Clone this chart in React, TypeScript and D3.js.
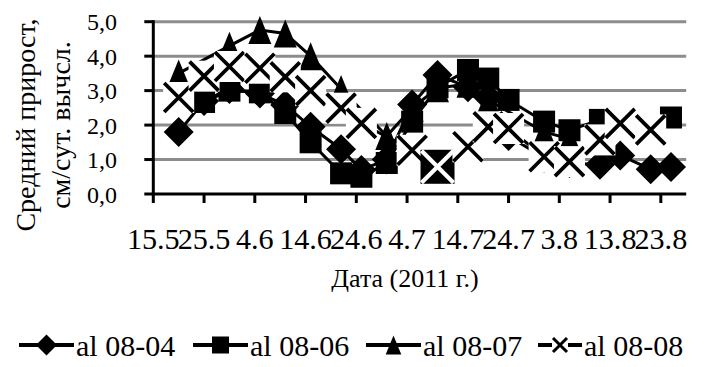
import React from "react";
import * as d3 from "d3";

// Day offsets counted from 15 May 2011
const tickDays = [0, 10, 20, 30, 40, 50, 60, 70, 80, 90, 100];
const tickLabels = ["15.5", "25.5", "4.6", "14.6", "24.6", "4.7", "14.7", "24.7", "3.8", "13.8", "23.8"];
const yTicks = [0, 1, 2, 3, 4, 5];

const days0804 = [5, 10, 15, 21, 26, 31, 37, 41, 46, 51, 56, 62, 66, 70, 77, 82, 88, 92, 98, 102];
const vals0804 = [1.8, 2.7, 3.05, 2.92, 2.58, 1.95, 1.3, 0.7, 1.0, 2.6, 3.45, 3.1, 2.8, 1.68, 1.05, 0.9, 0.85, 1.12, 0.72, 0.78];

const days0806 = [10, 15, 21, 26, 31, 37, 41, 46, 51, 56, 62, 66, 70, 77, 82, 88, 102];
const vals0806 = [2.67, 3.0, 2.95, 2.35, 1.5, 0.6, 0.5, 0.9, 2.1, 3.1, 3.6, 3.35, 2.73, 2.1, 1.85, 2.15, 2.22];

const days0807 = [5, 15, 21, 26, 31, 37, 46, 51, 56, 62, 66, 77, 82];
const vals0807 = [3.5, 4.3, 4.76, 4.66, 4.0, 3.05, 1.68, 2.5, 3.07, 3.2, 2.72, 1.8, 1.6];

const days0808 = [5, 10, 15, 21, 26, 31, 37, 41, 51, 56, 62, 66, 70, 77, 82, 88, 92, 98];
const vals0808 = [2.8, 3.42, 3.7, 3.65, 3.4, 3.0, 2.49, 2.05, 1.27, 0.79, 1.37, 1.95, 1.9, 1.08, 0.94, 1.57, 2.05, 1.86];
// point of al 08-08 drawn with a dark fill
const highlighted0808 = 56;

const seriesNames = ["al 08-04", "al 08-06", "al 08-07", "al 08-08"];

type Shape = "diamond" | "square" | "triangle" | "cross";

const FONT = "'Liberation Serif', 'Times New Roman', serif";

function Marker({ shape, x, y, s, dark }: { shape: Shape; x: number; y: number; s: number; dark?: boolean }) {
  if (shape === "diamond") {
    const h = s / 2;
    return <path d={`M${x},${y - h}L${x + h},${y}L${x},${y + h}L${x - h},${y}Z`} fill="#000" />;
  }
  if (shape === "square") {
    const h = s / 2;
    return <rect x={x - h} y={y - h} width={s} height={s} fill="#000" />;
  }
  if (shape === "triangle") {
    const w = s * 0.82;
    const h = s;
    return <path d={`M${x},${y - h / 2}L${x + w / 2},${y + h / 2}L${x - w / 2},${y + h / 2}Z`} fill="#000" />;
  }
  const h = s / 2;
  const d = `M${x - h},${y - h}L${x + h},${y + h}M${x + h},${y - h}L${x - h},${y + h}`;
  return (
    <g>
      <rect x={x - h - 1} y={y - h - 1} width={s + 2} height={s + 2} fill={dark ? "#000" : "#fff"} />
      <path d={d} stroke={dark ? "#fff" : "#000"} strokeWidth={Math.max(3, s * 0.13)} />
    </g>
  );
}

export default function App() {
  const W = 706;
  const H = 367;
  const x = d3.scaleLinear().domain([0, 105]).range([153.3, 686.2]);
  const y = d3.scaleLinear().domain([0, 5]).range([194, 21.7]);

  const series: { days: number[]; vals: number[]; shape: Shape; size: number }[] = [
    { days: days0804, vals: vals0804, shape: "diamond", size: 30 },
    { days: days0806, vals: vals0806, shape: "square", size: 22 },
    { days: days0807, vals: vals0807, shape: "triangle", size: 28 },
    { days: days0808, vals: vals0808, shape: "cross", size: 29 },
  ];

  const line = d3
    .line<[number, number]>()
    .x((d) => x(d[0]))
    .y((d) => y(d[1]));

  const legendX = [19, 193, 366, 538];
  const legendLine = [55, 55, 55, 44];
  const legendMarker = [21, 17, 19, 14];
  const legendY = 345;

  return (
    <svg width={W} height={H} style={{ position: "absolute", left: 0, top: 0, background: "#fff" }} fontFamily={FONT}>
      {/* gridlines */}
      {yTicks.slice(1).map((t) => (
        <line key={t} x1={x(0)} x2={x(105)} y1={y(t)} y2={y(t)} stroke="#8c8c8c" strokeWidth={3} />
      ))}

      {/* series lines and markers */}
      {series.map((s, i) => {
        const pts = s.days.map((d, j) => [d, s.vals[j]] as [number, number]);
        return (
          <g key={i}>
            <path d={line(pts) || ""} fill="none" stroke="#000" strokeWidth={3} />
            {pts.map((p, j) => {
              const dark = s.shape === "cross" && p[0] === highlighted0808;
              return (
                <Marker key={j} shape={s.shape} x={x(p[0])} y={y(p[1])} s={dark ? 32 : s.size} dark={dark} />
              );
            })}
          </g>
        );
      })}

      {/* axes */}
      <line x1={x(0)} x2={x(0)} y1={y(5) - 1.5} y2={y(0) + 1.5} stroke="#000" strokeWidth={3} />
      <line x1={x(0) - 1.5} x2={x(105)} y1={y(0)} y2={y(0)} stroke="#000" strokeWidth={3} />
      {yTicks.map((t) => (
        <g key={t}>
          <line x1={x(0) - 9} x2={x(0)} y1={y(t)} y2={y(t)} stroke="#000" strokeWidth={3} />
          <text x={117} y={y(t) + 8.5} textAnchor="end" fontSize={24}>
            {t.toFixed(1).replace(".", ",")}
          </text>
        </g>
      ))}
      {tickDays.map((d, i) => (
        <g key={d}>
          <line x1={x(d)} x2={x(d)} y1={y(0)} y2={y(0) + 9} stroke="#000" strokeWidth={3} />
          <text transform={`translate(${x(d)},249) scale(1.04,1)`} textAnchor="middle" fontSize={29}>
            {tickLabels[i]}
          </text>
        </g>
      ))}

      {/* axis titles */}
      <text x={405} y={287} textAnchor="middle" fontSize={26}>
        Дата (2011 г.)
      </text>
      <text transform="translate(35,125) rotate(-90)" textAnchor="middle" fontSize={28}>
        Средний прирост,
      </text>
      <text transform="translate(70,125) rotate(-90)" textAnchor="middle" fontSize={28}>
        см/сут. вычсл.
      </text>

      {/* legend */}
      {series.map((s, i) => (
        <g key={i}>
          <line x1={legendX[i]} x2={legendX[i] + legendLine[i]} y1={legendY} y2={legendY} stroke="#000" strokeWidth={4} />
          <Marker shape={s.shape} x={legendX[i] + legendLine[i] / 2} y={legendY} s={legendMarker[i]} />
          <text x={legendX[i] + legendLine[i] + 2} y={legendY + 11} fontSize={30}>
            {seriesNames[i]}
          </text>
        </g>
      ))}
    </svg>
  );
}
